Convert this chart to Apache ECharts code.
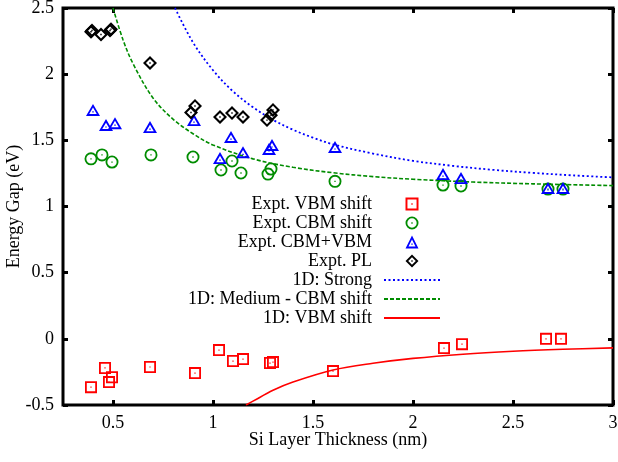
<!DOCTYPE html>
<html><head><meta charset="utf-8">
<script src="https://cdn.jsdelivr.net/npm/echarts@6/dist/echarts.min.js"></script>
<style>html,body{margin:0;padding:0;background:#fff}#c{width:618px;height:462px}</style>
</head><body><div id="c"></div><script>
// ---- data ----
const xTicks = [0.5, 1, 1.5, 2, 2.5, 3];
const yTicks = [-0.5, 0, 0.5, 1, 1.5, 2, 2.5];

const vbmX = [0.39, 0.46, 0.48, 0.495, 0.685, 0.91, 1.03, 1.10, 1.15, 1.285, 1.30, 1.60, 2.155, 2.245, 2.665, 2.74];
const vbmY = [-0.365, -0.22, -0.327, -0.29, -0.213, -0.259, -0.085, -0.168, -0.153, -0.183, -0.176, -0.244, -0.07, -0.04, 0.0, 0.0];

const cbmX = [0.39, 0.445, 0.495, 0.69, 0.90, 1.04, 1.095, 1.14, 1.275, 1.29, 1.61, 2.15, 2.24, 2.675, 2.75];
const cbmY = [1.36, 1.39, 1.336, 1.39, 1.374, 1.276, 1.344, 1.253, 1.245, 1.283, 1.19, 1.162, 1.155, 1.132, 1.132];

const sumX = [0.40, 0.465, 0.51, 0.685, 0.905, 1.035, 1.09, 1.15, 1.28, 1.295, 1.61, 2.15, 2.24, 2.675, 2.75];
const sumY = [1.73, 1.616, 1.63, 1.60, 1.653, 1.366, 1.525, 1.41, 1.435, 1.465, 1.45, 1.245, 1.215, 1.14, 1.14];

const plX = [0.39, 0.395, 0.44, 0.485, 0.49, 0.685, 0.89, 0.91, 1.035, 1.095, 1.15, 1.27, 1.29, 1.30];
const plY = [2.32, 2.33, 2.30, 2.33, 2.34, 2.084, 1.71, 1.76, 1.676, 1.706, 1.676, 1.653, 1.69, 1.73];

const strongX = [0.81, 0.9, 1.0, 1.1, 1.2, 1.3, 1.4, 1.5, 1.6, 1.8, 2.0, 2.2, 2.4, 2.6, 2.8, 3.0];
const strongY = [2.50, 2.24, 2.03, 1.87, 1.75, 1.655, 1.58, 1.52, 1.47, 1.40, 1.345, 1.307, 1.277, 1.254, 1.235, 1.22];

const mediumX = [0.5, 0.55, 0.6, 0.7, 0.8, 0.9, 1.0, 1.2, 1.4, 1.6, 1.8, 2.0, 2.3, 2.6, 3.0];
const mediumY = [2.50, 2.26, 2.08, 1.82, 1.66, 1.55, 1.465, 1.36, 1.296, 1.255, 1.226, 1.206, 1.185, 1.171, 1.158];

const vbmLineX = [1.165, 1.2, 1.3, 1.4, 1.6, 1.8, 2.0, 2.25, 2.5, 2.75, 3.0];
const vbmLineY = [-0.5, -0.471, -0.389, -0.327, -0.236, -0.185, -0.148, -0.116, -0.094, -0.079, -0.068];

const names = ['Expt. VBM shift', 'Expt. CBM shift', 'Expt. CBM+VBM', 'Expt. PL',
  '1D: Strong', '1D: Medium - CBM shift', '1D: VBM shift'];

// ---- symbols (hollow with centre dot) ----
const dot = ' M45,45 L45,55 L55,55 L55,45 Z';
const symSquare = 'path://M0,0 L100,0 L100,100 L0,100 Z M15,15 L15,85 L85,85 L85,15 Z' + dot;
const symCircle = 'path://M50,0 A50,50 0 1,1 50,100 A50,50 0 1,1 50,0 Z M50,14 A36,36 0 1,0 50,86 A36,36 0 1,0 50,14 Z' + dot;
const symTri = 'path://M50,0 L100,100 L0,100 Z M50,31 L23,84 L77,84 Z M45,62 L45,72 L55,72 L55,62 Z';
const symDia = 'path://M50,0 L100,50 L50,100 L0,50 Z M50,21 L21,50 L50,79 L79,50 Z' + dot;

const zip = (a, b) => a.map((v, i) => [v, b[i]]);
const FONT = 'Liberation Serif';

const chart = echarts.init(document.getElementById('c'), null, {renderer: 'canvas'});

const scat = (name, xs, ys, sym, size, color) => ({
  name, type: 'scatter', data: zip(xs, ys), symbol: sym, symbolSize: size,
  symbolKeepAspect: false,
  itemStyle: {color: color, opacity: 1}, silent: true, z: 3
});
const line = (name, xs, ys, color, type, w) => ({
  name, type: 'line', data: zip(xs, ys), symbol: 'circle', symbolSize: 0, showSymbol: false, smooth: 0.35,
  lineStyle: {color: color, type: type, width: w}, itemStyle: {color: color},
  silent: true, z: 2
});

const legendData = names.map((n, i) => i < 4 ? {name: n} : {name: n, itemStyle: {opacity: 0}});

chart.setOption({
  animation: false,
  backgroundColor: '#fff',
  grid: {left: 63, right: 5, top: 8, bottom: 57, containLabel: false, outerBoundsMode: 'none',
    show: true, borderColor: '#000', borderWidth: 3, backgroundColor: 'transparent'},
  legend: {
    orient: 'vertical', align: 'right', right: 177, top: 195, padding: 0,
    itemWidth: 56, itemHeight: 13, itemGap: 1, selectedMode: false,
    textStyle: {fontFamily: FONT, fontSize: 18, color: '#000', padding: [0, 7, 0, 0]},
    data: legendData
  },
  xAxis: [{
    type: 'value', min: 0.25, max: 3, position: 'bottom',
    name: 'Si Layer Thickness (nm)', nameLocation: 'middle', nameGap: 26, nameMoveOverlap: false,
    nameTextStyle: {fontFamily: FONT, fontSize: 18, color: '#000'},
    axisLine: {show: false, onZero: false}, splitLine: {show: false},
    axisTick: {show: true, inside: true, length: 5, customValues: xTicks, lineStyle: {color: '#000', width: 3}},
    axisLabel: {customValues: xTicks, fontFamily: FONT, fontSize: 18, color: '#000', margin: 9}
  }, {
    type: 'value', min: 0.25, max: 3, position: 'top',
    axisLine: {show: false, onZero: false}, splitLine: {show: false},
    axisTick: {show: true, inside: true, length: 5, customValues: xTicks, lineStyle: {color: '#000', width: 3}},
    axisLabel: {show: false}
  }],
  yAxis: [{
    type: 'value', min: -0.5, max: 2.5, interval: 0.5, position: 'left',
    name: 'Energy Gap (eV)', nameLocation: 'middle', nameGap: 40, nameRotate: 90, nameMoveOverlap: false,
    nameTextStyle: {fontFamily: FONT, fontSize: 18, color: '#000'},
    axisLine: {show: false, onZero: false}, splitLine: {show: false},
    axisTick: {show: true, inside: true, length: 5, lineStyle: {color: '#000', width: 3}},
    axisLabel: {fontFamily: FONT, fontSize: 18, color: '#000', margin: 9,
      formatter: v => String(v)}
  }, {
    type: 'value', min: -0.5, max: 2.5, interval: 0.5, position: 'right',
    axisLine: {show: false, onZero: false}, splitLine: {show: false},
    axisTick: {show: true, inside: true, length: 5, lineStyle: {color: '#000', width: 3}},
    axisLabel: {show: false}
  }],
  series: [
    scat(names[0], vbmX, vbmY, symSquare, [12, 12], '#ff0000'),
    scat(names[1], cbmX, cbmY, symCircle, [13, 13], '#008c00'),
    scat(names[2], sumX, sumY, symTri, [14, 12], '#0000ff'),
    scat(names[3], plX, plY, symDia, [14, 14], '#000000'),
    line(names[4], strongX, strongY, '#0000ff', [2, 2.5], 1.8),
    line(names[5], mediumX, mediumY, '#008c00', [4, 2], 1.6),
    line(names[6], vbmLineX, vbmLineY, '#ff0000', 'solid', 1.6)
  ]
});
</script></body></html>
